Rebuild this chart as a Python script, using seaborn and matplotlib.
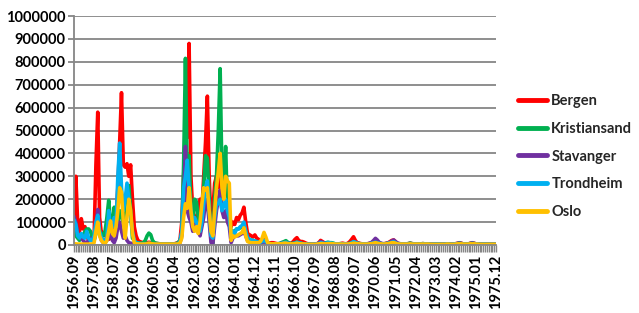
import matplotlib
matplotlib.use("Agg")
import matplotlib.pyplot as plt
import seaborn as sns
import pandas as pd

# ---------------- data (values in thousands) ----------------
months = pd.period_range("1956-09", "1975-12", freq="M").strftime("%Y.%m").tolist()

tick_labels = ["1956.09", "1957.08", "1958.07", "1959.06", "1960.05", "1961.04",
               "1962.03", "1963.02", "1964.01", "1964.12", "1965.11", "1966.10",
               "1967.09", "1968.08", "1969.07", "1970.06", "1971.05", "1972.04",
               "1973.03", "1974.02", "1975.01", "1975.12"]

cities = ["Bergen", "Kristiansand", "Stavanger", "Trondheim", "Oslo"]
colors = ["#FF0000", "#00B050", "#7030A0", "#00B0F0", "#FFC000"]

bergen = [
    120, 300, 100, 60, 115, 70, 80, 40, 20, 20,
    20, 30, 350, 580, 120, 50, 55, 45, 30, 25,
    30, 40, 60, 120, 250, 450, 665, 350, 340, 355,
    300, 350, 200, 80, 40, 20, 15, 12, 10, 10,
    10, 12, 10, 8, 8, 6, 6, 5, 5, 5,
    5, 5, 5, 5, 5, 5, 8, 10, 20, 100,
    300, 480, 470, 880, 300, 150, 120, 100, 150, 200,
    150, 300, 450, 650, 300, 100, 150, 270, 300, 250,
    350, 250, 200, 220, 200, 150, 80, 100, 90, 120,
    110, 130, 140, 165, 100, 50, 45, 40, 35, 44,
    30, 25, 20, 25, 30, 20, 10, 8, 10, 10,
    8, 6, 5, 6, 8, 10, 12, 8, 6, 8,
    15, 25, 32, 20, 15, 15, 12, 8, 5, 4,
    3, 3, 4, 5, 10, 20, 15, 10, 8, 5,
    5, 6, 5, 4, 4, 5, 6, 8, 6, 5,
    8, 15, 25, 36, 20, 10, 8, 6, 5, 5,
    5, 6, 8, 10, 15, 18, 15, 10, 6, 5,
    6, 8, 10, 15, 20, 22, 15, 8, 6, 5,
    5, 4, 4, 6, 8, 6, 5, 4, 4, 5,
    5, 6, 5, 4, 4, 3, 3, 4, 5, 4,
    4, 3, 3, 4, 5, 4, 3, 3, 4, 6,
    8, 10, 8, 5, 4, 4, 5, 8, 10, 8,
    5, 4, 3, 3, 4, 4, 3, 3, 3, 3,
    3, 3]

kristiansand = [
    70, 40, 30, 20, 40, 40, 60, 70, 70, 60,
    30, 20, 50, 80, 60, 50, 40, 60, 120, 195,
    100, 80, 165, 120, 100, 150, 120, 100, 180, 220,
    260, 150, 30, 20, 10, 10, 8, 8, 10, 20,
    40, 52, 45, 20, 10, 8, 6, 5, 5, 5,
    5, 5, 5, 5, 5, 5, 6, 10, 20, 50,
    350, 815, 300, 390, 150, 80, 200, 190, 120, 60,
    150, 250, 390, 380, 200, 20, 5, 200, 300, 500,
    770, 300, 250, 430, 150, 120, 50, 60, 60, 70,
    70, 75, 80, 80, 60, 30, 25, 20, 20, 15,
    15, 12, 10, 15, 20, 15, 8, 6, 5, 5,
    5, 5, 6, 8, 12, 15, 19, 12, 8, 6,
    8, 10, 12, 10, 8, 6, 5, 4, 4, 3,
    3, 3, 4, 5, 8, 12, 10, 8, 10, 12,
    10, 10, 8, 5, 4, 5, 6, 5, 4, 4,
    5, 8, 10, 12, 10, 8, 6, 5, 5, 4,
    4, 5, 6, 8, 10, 12, 10, 8, 6, 5,
    5, 6, 8, 10, 12, 12, 10, 6, 5, 4,
    4, 4, 5, 6, 8, 6, 5, 4, 4, 4,
    5, 6, 5, 4, 4, 3, 3, 4, 5, 4,
    4, 3, 3, 4, 5, 4, 3, 3, 4, 5,
    6, 8, 6, 5, 4, 4, 5, 6, 7, 6,
    5, 4, 3, 3, 4, 4, 3, 3, 3, 3,
    3, 3]

stavanger = [
    125, 100, 50, 40, 30, 20, 10, 10, 20, 30,
    20, 20, 80, 155, 50, 20, 10, 10, 20, 30,
    60, 20, 10, 30, 80, 100, 60, 30, 40, 20,
    10, 8, 6, 5, 5, 5, 4, 4, 4, 4,
    4, 5, 5, 4, 4, 3, 3, 3, 3, 3,
    3, 3, 3, 3, 3, 3, 4, 5, 10, 40,
    200, 430, 150, 120, 100, 60, 80, 100, 60, 40,
    80, 120, 200, 180, 100, 10, 5, 80, 150, 200,
    240, 150, 120, 150, 100, 80, 10, 30, 40, 40,
    40, 45, 50, 60, 40, 20, 15, 12, 10, 10,
    10, 8, 8, 10, 15, 10, 6, 5, 4, 4,
    4, 4, 5, 6, 8, 10, 10, 8, 6, 5,
    6, 8, 10, 8, 6, 5, 4, 3, 3, 3,
    3, 3, 4, 5, 8, 15, 12, 8, 6, 5,
    5, 5, 4, 4, 4, 4, 5, 5, 4, 4,
    5, 6, 8, 12, 10, 8, 6, 5, 4, 4,
    4, 5, 8, 12, 20, 29, 22, 12, 8, 6,
    5, 6, 8, 12, 18, 22, 15, 8, 6, 5,
    4, 4, 4, 5, 6, 5, 4, 4, 4, 4,
    4, 5, 5, 4, 4, 3, 3, 4, 4, 4,
    4, 3, 3, 4, 4, 4, 3, 3, 4, 5,
    6, 7, 6, 5, 4, 4, 5, 6, 8, 6,
    5, 4, 3, 3, 4, 4, 3, 3, 3, 3,
    3, 3]

trondheim = [
    110, 90, 40, 30, 50, 35, 30, 60, 30, 20,
    20, 40, 100, 130, 60, 30, 25, 20, 30, 150,
    60, 80, 120, 80, 300, 445, 250, 150, 200, 270,
    200, 120, 60, 20, 10, 8, 6, 5, 5, 5,
    6, 8, 6, 5, 4, 4, 4, 3, 3, 3,
    3, 3, 3, 3, 3, 3, 4, 6, 15, 60,
    250, 300, 370, 250, 150, 100, 120, 100, 80, 60,
    100, 180, 250, 280, 150, 40, 30, 120, 180, 180,
    200, 150, 170, 200, 150, 120, 40, 60, 50, 70,
    70, 80, 85, 100, 60, 30, 25, 20, 20, 18,
    15, 12, 12, 15, 20, 15, 8, 6, 5, 5,
    5, 5, 5, 6, 8, 10, 12, 8, 6, 5,
    6, 8, 12, 10, 8, 6, 5, 4, 3, 3,
    3, 3, 3, 4, 6, 10, 8, 6, 8, 10,
    10, 8, 6, 5, 4, 4, 5, 5, 4, 4,
    5, 6, 10, 15, 12, 8, 6, 5, 4, 4,
    4, 5, 6, 8, 10, 12, 10, 8, 6, 5,
    5, 6, 8, 10, 12, 14, 10, 6, 5, 4,
    4, 4, 4, 5, 6, 5, 4, 4, 4, 4,
    4, 5, 5, 4, 4, 3, 3, 4, 4, 4,
    4, 3, 3, 4, 4, 4, 3, 3, 4, 5,
    6, 7, 6, 5, 4, 4, 5, 6, 7, 6,
    5, 4, 3, 3, 4, 4, 3, 3, 3, 3,
    3, 3]

oslo = [
    5, 5, 4, 4, 4, 4, 4, 4, 4, 4,
    4, 10, 60, 100, 40, 20, 10, 5, 20, 60,
    105, 50, 40, 80, 150, 250, 230, 100, 30, 120,
    200, 150, 50, 10, 5, 5, 4, 4, 4, 4,
    5, 8, 6, 5, 4, 4, 4, 4, 4, 4,
    4, 4, 4, 4, 4, 4, 4, 5, 8, 30,
    120, 180, 160, 250, 150, 80, 60, 80, 50, 100,
    180, 250, 240, 250, 150, 60, 40, 150, 250, 320,
    400, 250, 200, 300, 280, 270, 20, 40, 35, 40,
    45, 50, 55, 75, 40, 15, 12, 10, 10, 10,
    10, 10, 15, 30, 55, 35, 10, 6, 5, 5,
    5, 5, 5, 5, 6, 8, 8, 6, 5, 5,
    5, 6, 8, 6, 5, 5, 4, 4, 3, 3,
    3, 3, 3, 4, 5, 6, 6, 5, 5, 6,
    6, 6, 5, 4, 4, 4, 4, 4, 4, 4,
    4, 5, 6, 8, 7, 6, 5, 4, 4, 4,
    4, 4, 5, 6, 8, 10, 8, 6, 5, 4,
    4, 5, 6, 8, 10, 10, 8, 5, 4, 4,
    4, 4, 4, 4, 5, 4, 4, 4, 4, 4,
    4, 4, 4, 4, 4, 3, 3, 3, 3, 3,
    3, 3, 3, 3, 4, 4, 3, 3, 3, 4,
    5, 5, 5, 4, 4, 4, 4, 5, 5, 5,
    4, 4, 3, 3, 3, 3, 3, 3, 3, 3,
    3, 3]

series = [bergen, kristiansand, stavanger, trondheim, oslo]
for s in series:
    assert len(s) == len(months), len(s)

# ---------------- build long table ----------------
frames = []
for name, vals in zip(cities, series):
    frames.append(pd.DataFrame({
        "idx": range(len(months)),
        "month": months,
        "value": [v * 1000 for v in vals],
        "city": name,
    }))
df = pd.concat(frames, ignore_index=True)

# ---------------- plot ----------------
sns.set_theme(style="white")
plt.rcParams["font.family"] = ["Lato", "DejaVu Sans"]

W, H = 639, 313
fig = plt.figure(figsize=(W / 100, H / 100), dpi=100)
ax = fig.add_axes([74 / W, 1 - 245 / H, (496 - 74) / W, (245 - 16) / H])

grid_c = "#868686"
ax.set_axisbelow(True)
ax.yaxis.grid(True, color=grid_c, linewidth=1.3)

sns.lineplot(data=df, x="idx", y="value", hue="city", hue_order=cities,
             palette=dict(zip(cities, colors)), linewidth=2.6, sort=False,
             ax=ax, legend=True)

ax.set_xlim(0, len(months) - 1)
ax.set_ylim(0, 1000000)
yt = list(range(0, 1000001, 100000))
ax.set_yticks(yt)
ax.set_yticklabels([str(v) for v in yt], fontsize=10.5, fontweight="bold", color="black")

major_pos = [months.index(l) for l in tick_labels]
ax.set_xticks(major_pos)
ax.set_xticklabels(tick_labels, rotation=90, fontsize=10.5, fontweight="bold", color="black")
ax.set_xticks(range(len(months)), minor=True)
ax.tick_params(axis="x", which="both", direction="out", length=5, width=1, color=grid_c,
               bottom=True, pad=2)
ax.tick_params(axis="y", which="major", direction="out", length=4, width=1.3, color=grid_c,
               left=True, pad=2)
ax.set_xlabel("")
ax.set_ylabel("")

for side in ["top", "right"]:
    ax.spines[side].set_visible(False)
for side in ["left", "bottom"]:
    ax.spines[side].set_color(grid_c)
    ax.spines[side].set_linewidth(1.3)

handles, labels = ax.get_legend_handles_labels()
ax.get_legend().remove()
leg = fig.legend(handles, labels, loc="upper left", bbox_to_anchor=(512 / W, 1 - 88 / H),
                 frameon=False, fontsize=10.5, handlelength=2.0, handletextpad=0.3,
                 labelspacing=0.95, borderaxespad=0)
for t in leg.get_texts():
    t.set_fontweight("bold")
for h in leg.get_lines():
    h.set_linewidth(3.5)

fig.savefig("out.png", dpi=100)
